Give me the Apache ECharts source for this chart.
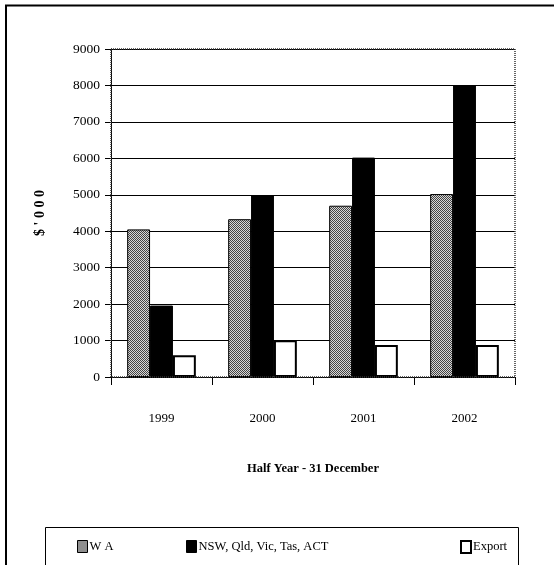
<!DOCTYPE html>
<html><head><meta charset="utf-8">
<script src="https://cdn.jsdelivr.net/npm/echarts@6/dist/echarts.min.js"></script>
<style>html,body{margin:0;padding:0;background:#fff}#c{width:554px;height:565px}</style>
</head><body><div id="c"></div>
<script>
const categories = ['1999', '2000', '2001', '2002'];
const waValues = [4050, 4330, 4700, 5020];
const eastValues = [1960, 4980, 6020, 8010];
const exportValues = [600, 1010, 880, 880];
const seriesNames = ['W A', 'NSW, Qld, Vic, Tas, ACT', 'Export'];
const yTicks = [0, 1000, 2000, 3000, 4000, 5000, 6000, 7000, 8000, 9000];

const FONT = '"Liberation Serif", serif';

// checker pattern for WA
const pc = document.createElement('canvas');
pc.width = 2; pc.height = 2;
const px = pc.getContext('2d');
px.fillStyle = '#d8d8d8'; px.fillRect(0,0,2,2);
px.fillStyle = '#444'; px.fillRect(0,0,1,1); px.fillRect(1,1,1,1);
const waFill = {image: pc, repeat: 'repeat'};

const G = {left: 111, right: 39, top: 49, bottom: 188};
const chart = echarts.init(document.getElementById('c'), null, {renderer: 'canvas'});

function legendItem(name, left, fill, bw) {
  return {
    show: true, left: left, top: 535, itemWidth: 10, itemHeight: 12, itemGap: 0,
    data: [{name: name, itemStyle: {color: fill, borderColor: '#000', borderWidth: bw}}],
    textStyle: {fontFamily: FONT, fontSize: 12.5, color: '#000', padding: [0,0,0,-3]},
    icon: 'rect', selectedMode: false
  };
}

chart.setOption({
  animation: false,
  backgroundColor: '#fff',
  grid: G,
  legend: [
    legendItem(seriesNames[0], 72, waFill, 1),
    legendItem(seriesNames[1], 181, '#000', 1),
    legendItem(seriesNames[2], 455, '#fff', 2)
  ],
  xAxis: {
    type: 'category', data: categories,
    axisLine: {show: true, lineStyle: {color: '#000', width: 1}},
    axisTick: {show: true, length: 8, lineStyle: {color: '#000'}},
    axisLabel: {color: '#000', fontFamily: FONT, fontSize: 13, margin: 35},
    name: 'Half Year - 31 December', nameLocation: 'middle', nameGap: 85,
    nameTextStyle: {color: '#000', fontFamily: FONT, fontSize: 12.5, fontWeight: 'bold'}
  },
  yAxis: {
    type: 'value', min: 0, max: 9000, interval: 1000,
    axisLine: {show: true, lineStyle: {color: '#000', width: 1}},
    axisTick: {show: true, length: 6, lineStyle: {color: '#000'}},
    axisLabel: {color: '#000', fontFamily: FONT, fontSize: 13.5, margin: 11,
      formatter: v => yTicks.includes(v) ? String(v) : ''},
    splitLine: {show: true, lineStyle: {color: '#000', width: 1}},
    name: "$ ' 0 0 0", nameLocation: 'middle', nameGap: 64,
    nameTextStyle: {color: '#000', fontFamily: FONT, fontSize: 14, fontWeight: 'bold'}
  },
  series: [
    {name: seriesNames[0], type: 'bar', data: waValues, barGap: '0%', barCategoryGap: '32%',
     itemStyle: {color: waFill, borderColor: '#000', borderWidth: 1}},
    {name: seriesNames[1], type: 'bar', data: eastValues, barGap: '0%', barCategoryGap: '32%',
     itemStyle: {color: '#000', borderColor: '#000', borderWidth: 1}},
    {name: seriesNames[2], type: 'bar', data: exportValues, barGap: '0%', barCategoryGap: '32%',
     itemStyle: {color: '#fff', borderColor: '#000', borderWidth: 2}}
  ],
  graphic: [
    {type: 'rect', shape: {x: G.left, y: G.top, width: 554 - G.left - G.right, height: 565 - G.top - G.bottom},
     style: {fill: null, stroke: '#333', lineWidth: 1.5, lineDash: [1, 1]}, z: 10, silent: true},
    {type: 'polyline', shape: {points: [[6, 565], [6, 5.5], [554, 5.5]]},
     style: {fill: null, stroke: '#000', lineWidth: 2}, silent: true},
    {type: 'polyline', shape: {points: [[45.5, 565], [45.5, 527.5], [518.5, 527.5], [518.5, 565]]},
     style: {fill: null, stroke: '#000', lineWidth: 1}, silent: true}
  ]
});
</script></body></html>
